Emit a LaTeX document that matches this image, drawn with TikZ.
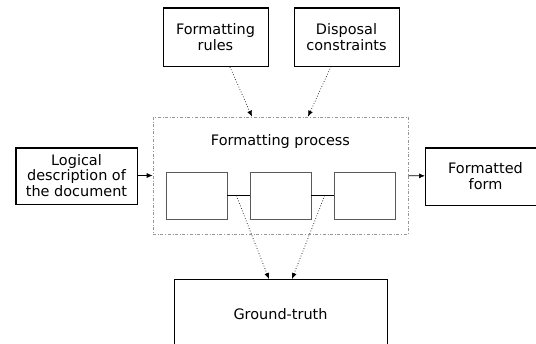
\documentclass[tikz,border=0pt]{standalone}
\usepackage{fontspec}
\setmainfont{DejaVu Sans}
\usetikzlibrary{arrows.meta,calc}
\definecolor{procgray}{RGB}{150,150,150}
\definecolor{stagegray}{RGB}{90,90,90}

\begin{document}
\begin{tikzpicture}[x=1bp,y=1bp,
    txt/.style={font=\fontsize{14.5}{15.5}\selectfont,align=center,inner sep=0pt},
    inbox/.style={txt,draw,line width=1bp,
      path picture={\draw[line width=3bp] (path picture bounding box.north west) -- (path picture bounding box.north east);}},
    thickleft/.style={path picture={\draw[line width=3bp] (path picture bounding box.south west) -- (path picture bounding box.north west) -- (path picture bounding box.north east);}},
    stage/.style={draw=stagegray,line width=0.8bp,minimum width=61bp,minimum height=47bp,inner sep=0pt},
    flow/.style={-{Latex[length=6bp,width=5bp]},line width=0.7bp},
    dotflow/.style={flow,dotted}]
  \useasboundingbox (0,0) rectangle (536,343);
  \clip (0,0) rectangle (536,343);

  % Inputs
  \node[inbox,minimum width=105bp,minimum height=59bp] (frules) at (215.5,306) {Formatting\\rules};
  \node[inbox,minimum width=105bp,minimum height=58bp] (dcons) at (346.5,306) {Disposal\\constraints};
  \node[inbox,thickleft,minimum width=121bp,minimum height=57bp] (logical) at (76.5,167.5) {Logical\\description of\\the document};

  % Formatting process
  \node[draw=procgray,dash dot,line width=0.7bp,minimum width=255bp,minimum height=117bp] (proc) at (280.5,167.5) {};
  \node[txt] (proclabel) at (280.5,201) {Formatting process};
  \node[stage] (s1) at (196.5,147.5) {};
  \node[stage] (s2) at (280.5,147.5) {};
  \node[stage] (s3) at (364.5,147.5) {};
  \draw[line width=0.8bp] (s1) -- coordinate[pos=0.4] (l1) (s2);
  \draw[line width=0.8bp] (s2) -- coordinate[pos=0.6] (l2) (s3);

  % Outputs
  \node[inbox,anchor=west,text width=120bp,minimum height=58bp] (fform) at (425,167) {Formatted\\form};
  \node[txt,draw,line width=1bp,anchor=north,minimum width=213bp,minimum height=70bp] (gt) at (280.5,64) {Ground-truth};

  % Connectors
  \coordinate (frout) at ($(frules.south)+(14.5,0)$);
  \coordinate (dcout) at ($(dcons.south)+(-15.5,0)$);
  \coordinate (procin1) at ($(proc.north)+(-28.5,0)$);
  \coordinate (procin2) at ($(proc.north)+(27.5,0)$);
  \coordinate (gtin1) at ($(gt.north)+(-11.5,0)$);
  \coordinate (gtin2) at ($(gt.north)+(11.5,0)$);
  \draw[dotflow] (frout) -- (procin1);
  \draw[dotflow] (dcout) -- (procin2);
  \draw[flow] (logical) -- (proc);
  \draw[flow] (proc) -- (fform);
  \draw[dotflow] (l1) -- (gtin1);
  \draw[dotflow] (l2) -- (gtin2);
\end{tikzpicture}
\end{document}
